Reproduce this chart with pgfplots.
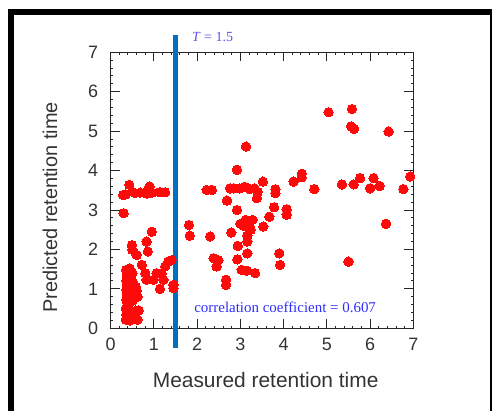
\documentclass[border=0pt]{standalone}
\usepackage{pgfplots}
\pgfplotsset{compat=1.18}
\usepackage{fontspec}
\setmainfont{Liberation Sans}
\newfontfamily\serifT{Liberation Serif}
\definecolor{vline}{RGB}{0,112,192}
\definecolor{annot}{RGB}{45,45,255}
\definecolor{tann}{RGB}{85,85,235}
\definecolor{ptred}{RGB}{255,10,10}
\begin{document}
\begin{tikzpicture}[x=1bp,y=1bp]
\path[use as bounding box] (0,0) rectangle (492,411);
\fill[black] (8,0) rectangle (14,402);
\fill[black] (8,396) rectangle (492,402);
\fill[black] (490.4,0) rectangle (491.8,402);
\begin{axis}[
  at={(110.7bp,82.7bp)}, anchor=south west,
  scale only axis, width=302.6bp, height=276bp,
  xmin=0, xmax=7, ymin=0, ymax=7,
  xtick={0,...,7}, ytick={0,...,7},
  minor tick num=4,
  tick align=inside,
  major tick length=9bp, minor tick length=2.5bp,
  axis line style={black!85, line width=1.2bp},
  every tick/.style={black!85, line width=1bp},
  /pgf/number format/assume math mode=true,
  ticklabel style={font=\fontsize{18}{20}\selectfont, text=black!80},
  xticklabel style={yshift=-6bp},
  yticklabel style={xshift=-9bp},
  xlabel={Measured retention time},
  ylabel={Predicted retention time},
  xlabel style={at={(axis description cs:0.512,-0.187)}, anchor=center, font=\fontsize{21}{24}\selectfont, text=black!80},
  ylabel style={at={(axis description cs:-0.2006,0.438)}, anchor=center, font=\fontsize{20}{24}\selectfont, text=black!80},
  clip=false,
]
\addplot[only marks, mark=*, mark size=4.7bp, mark options={fill=ptred, draw=ptred, line width=0pt}] coordinates {
(0.30,2.92) (0.43,3.64) (0.35,3.40) (0.49,3.47) (0.56,3.43) (0.68,3.44) (0.79,3.44) (0.90,3.60) (0.95,3.44) (1.14,3.45) (1.26,3.45) (0.29,3.38) (0.84,3.42)
(1.81,2.62) (1.83,2.35) (2.22,3.51) (2.34,3.51) (2.30,2.33) (2.38,1.78) (2.49,1.73) (2.45,1.57) (2.69,3.24) (2.67,1.23) (2.67,1.10)
(2.76,3.55) (2.79,2.43) (2.92,4.02) (2.92,3.00) (2.94,2.09) (2.93,1.75)
(2.85,3.55) (2.98,3.55) (3.10,3.59) (3.22,3.53) (3.33,3.55) (3.40,3.46)
(3.03,1.48) (3.15,1.46) (3.34,1.40)
(3.13,4.61) (3.16,1.90)
(3.00,2.65) (3.12,2.75) (3.20,2.65) (3.24,2.50) (3.16,2.35) (3.16,2.20) (3.20,2.55) (3.08,2.60) (3.28,2.75)
(3.38,3.30) (3.53,2.58) (3.52,3.72) (3.67,2.83) (3.78,3.07) (3.81,3.53) (3.81,3.43) (3.90,1.90) (3.92,1.61) (4.07,3.02) (4.07,2.88)
(4.23,3.72) (4.42,3.92) (4.42,3.83) (4.71,3.53) (5.04,5.48) (5.35,3.65) (5.50,1.69) (5.58,5.56) (5.56,5.12) (5.63,5.06) (5.62,3.65)
(5.77,3.81) (6.00,3.55) (6.08,3.81) (6.22,3.61) (6.37,2.65) (6.43,4.99) (6.77,3.53) (6.93,3.85)
(0.35,0.22) (0.45,0.20) (0.55,0.23) (0.36,0.35) (0.50,0.40) (0.35,0.50) (0.58,0.45) (0.40,0.60) (0.36,0.72) (0.50,0.70)
(0.38,0.85) (0.55,0.88) (0.36,0.98) (0.48,1.00) (0.60,0.95) (0.38,1.10) (0.52,1.15) (0.36,1.22) (0.46,1.28) (0.38,1.35)
(0.50,1.40) (0.36,1.48) (0.44,1.52) (0.62,0.80) (0.58,1.05) (0.62,0.22) (0.65,0.45)
(0.49,2.11) (0.50,1.99) (0.60,1.86) (0.72,1.61) (0.83,2.20) (0.86,1.95) (0.95,2.45)
(0.80,1.40) (0.83,1.23) (0.99,1.23) (1.14,1.00) (1.18,1.40) (1.26,1.57) (1.33,1.69) (1.41,1.73) (1.22,1.23) (1.45,1.10) (1.45,1.02) (1.06,1.40)
};
\addplot[vline, line width=4.5bp] coordinates {(1.5,-0.49) (1.5,7.43)};
\node[anchor=west, inner sep=0pt, text=tann, font=\serifT\fontsize{14}{16}\selectfont] at (axis cs:1.88,7.39) {\textit{T} = 1.5};
\node[anchor=west, inner sep=0pt, text=annot, font=\serifT\fontsize{15}{17}\selectfont] at (axis cs:1.93,0.54) {correlation coefficient = 0.607};
\end{axis}
\end{tikzpicture}
\end{document}
